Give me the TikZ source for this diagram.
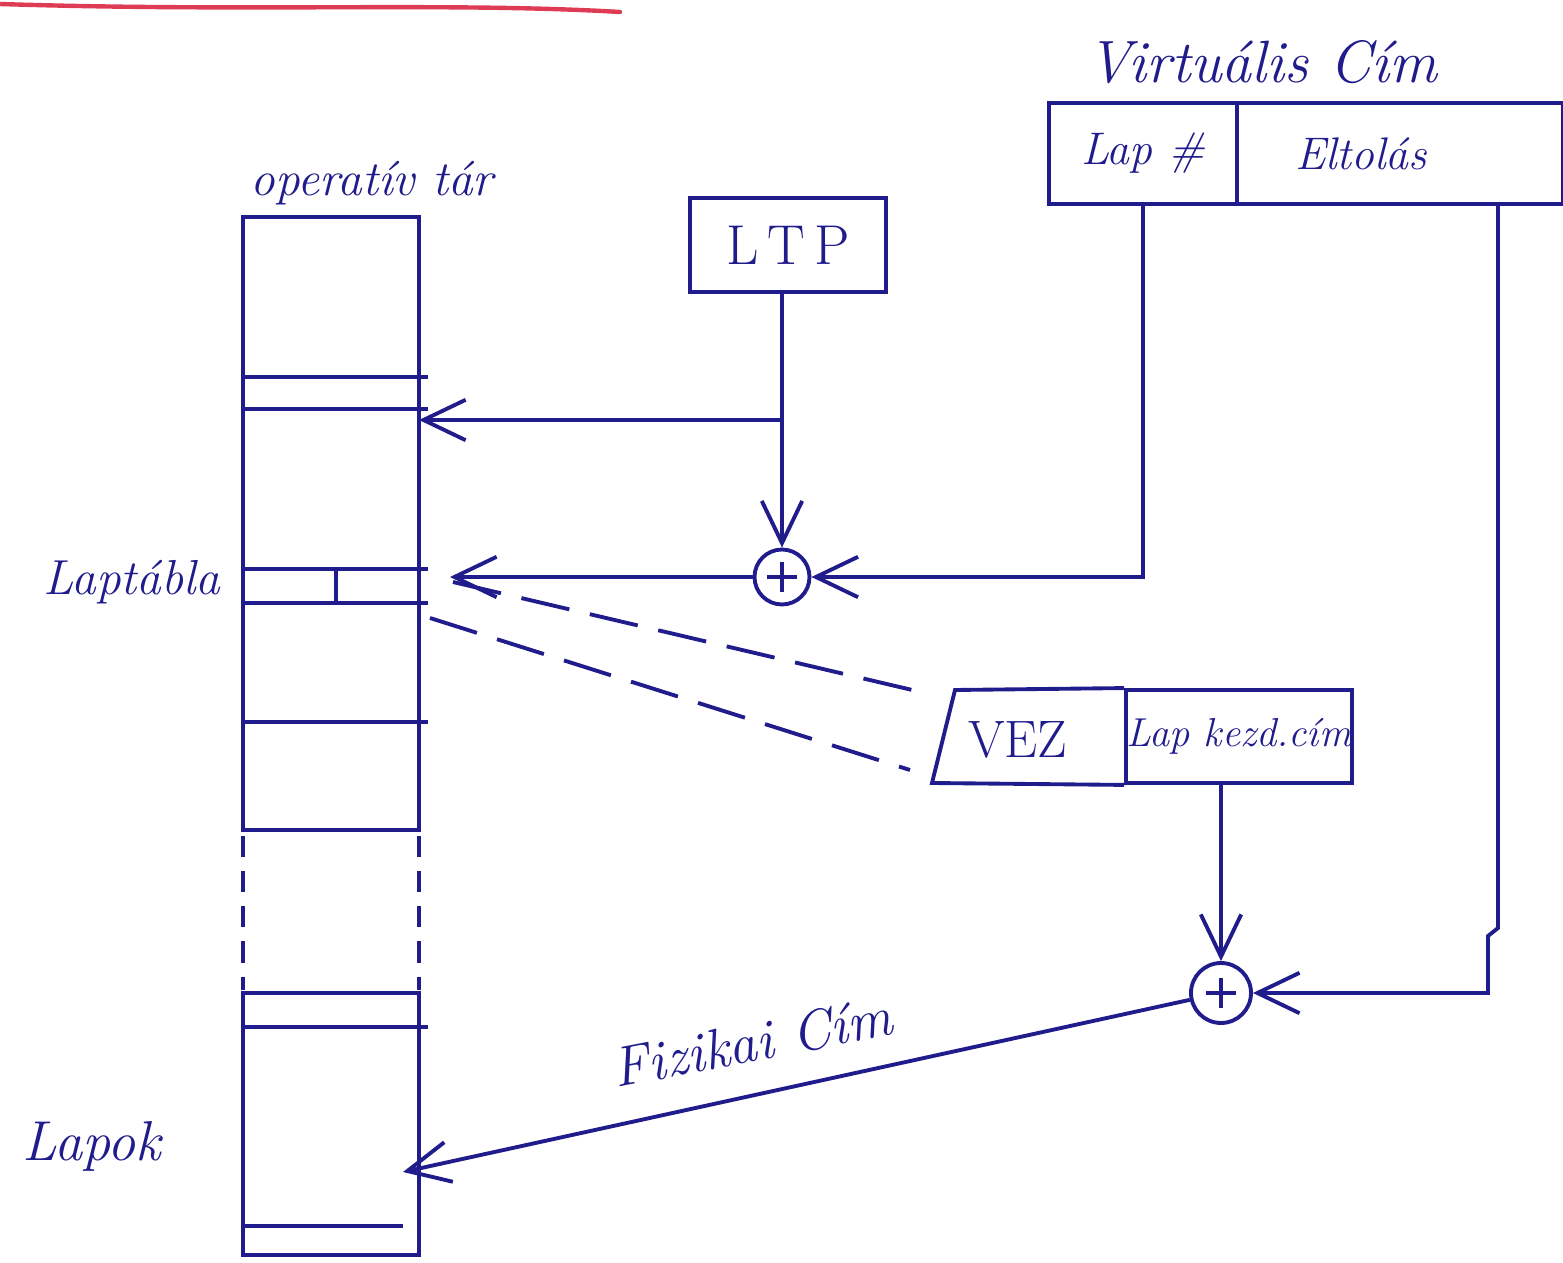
\documentclass[tikz,border=0pt]{standalone}
\usetikzlibrary{arrows.meta}
\definecolor{pen}{RGB}{32,28,140}
\definecolor{redpen}{RGB}{222,60,85}
\begin{document}
\begin{tikzpicture}[x=0.02cm,y=-0.02cm,
  pen/.style={draw=pen,line width=2.2pt},
  arr/.style={pen,-{Straight Barb[length=24pt,width=23pt]}},
  dsh/.style={pen,dash pattern=on 28pt off 12pt},
  dot/.style={pen,dash pattern=on 12pt off 8pt},
  lbl/.style={text=pen,font=\itshape\fontsize{28}{30}\selectfont,inner sep=0pt},
  box/.style={draw=pen,line width=2.2pt,text=pen,inner sep=0pt,font=\itshape\fontsize{26}{28}\selectfont},
  circ/.style={circle,draw=pen,line width=2.2pt,inner sep=0pt,
    path picture={\draw[pen,line width=2pt] ([xshift=-0.3cm]path picture bounding box.center) -- ([xshift=0.3cm]path picture bounding box.center);
                  \draw[pen,line width=2pt] ([yshift=-0.3cm]path picture bounding box.center) -- ([yshift=0.3cm]path picture bounding box.center);}}]
\useasboundingbox (0,0) rectangle (1563,1263);
% red underline at the top
\draw[redpen,line width=2.5pt,line cap=round] (0,4) .. controls (250,12) and (450,2) .. (620,12);
% operativ tar column
\draw[pen] (243,217) rectangle (419,830);
\draw[pen] (243,377) -- (428,377);
\draw[pen] (243,409) -- (428,409);
\draw[pen] (243,569) -- (428,569);
\draw[pen] (243,603) -- (428,603);
\draw[pen] (336,569) -- (336,603);
\draw[pen] (243,722) -- (428,722);
\draw[dot] (243,836) -- (243,990);
\draw[dot] (419,836) -- (419,990);
\draw[pen] (243,993) rectangle (419,1255);
\draw[pen] (243,1027) -- (428,1027);
\draw[pen] (243,1226) -- (403,1226);
\node[lbl] (opt) at (372,183) {operatív tár};
\node[lbl] (lt) at (132,582) {Laptábla};
\node[lbl,font=\itshape\fontsize{32}{32}\selectfont] (lp) at (92,1146) {Lapok};
% LTP
\node[box,font=\fontsize{32}{32}\selectfont,minimum width=3.92cm,minimum height=1.88cm] (ltp) at (788,245) {L\,T\,P};
% virtual address
\node[lbl,font=\itshape\fontsize{34}{34}\selectfont] (vc) at (1262,62) {Virtuális Cím};
\node[box,minimum width=3.76cm,minimum height=2.02cm] (lapno) at (1143,153.5) {Lap \#};
\node[box,minimum width=6.52cm,minimum height=2.02cm,text width=6.2cm,align=left] (eltol) at (1400,153.5) {\hspace{1cm}Eltolás};
% adders
\node[circ,minimum size=1.1cm] (s1) at (782,577) {};
\node[circ,minimum size=1.2cm] (s2) at (1221,993) {};
% page table entry
\node[box,minimum width=4.52cm,minimum height=1.86cm,font=\itshape\fontsize{23}{25}\selectfont] (lkc) at (1239,736.5) {Lap kezd.cím};
\coordinate (vbl) at (932,783);
\coordinate (vtl) at (955,690);
\draw[pen] (lkc.north west) -- (vtl) -- (vbl) -- (lkc.south west);
\node[text=pen,font=\fontsize{30}{30}\selectfont,inner sep=0pt] (vez) at (1018,740) {VEZ};
% connectors
\coordinate (pt) at (419,420);
\coordinate (br) at (s1 |- pt);
\coordinate (lte) at (450,577);
\coordinate (page) at (403,1172);
\coordinate (j1) at (1498,928);
\coordinate (j2) at (1488,936);
\draw[arr] (ltp.south -| s1) -- (s1.north);
\draw[arr] (br) -- (pt);
\draw[arr] (lapno.south) -- (lapno.south |- s1.east) -- (s1.east);
\draw[arr] (s1.west) -- (lte);
\draw[arr] (lkc.south -| s2) -- (s2.north);
\draw[arr] (eltol.south -| j1) -- (j1) -- (j2) -- (j2 |- s2.east) -- (s2.east);
\draw[arr] (s2) -- (page);
% dashed expansion lines
\coordinate (d1a) at (453,582);
\coordinate (d1b) at (925,693);
\coordinate (d2a) at (430,618);
\coordinate (d2b) at (910,770);
\draw[dsh] (d1a) -- (d1b);
\draw[dsh] (d2a) -- (d2b);
\node[lbl,font=\itshape\fontsize{32}{32}\selectfont,rotate=11] (fc) at (752,1042) {Fizikai Cím};
\end{tikzpicture}
\end{document}
